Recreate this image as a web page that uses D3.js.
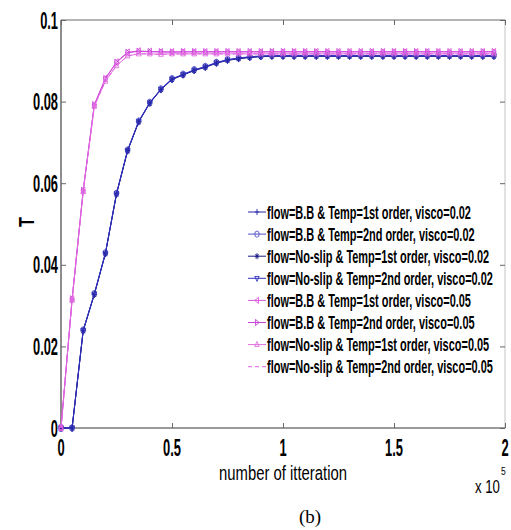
<!DOCTYPE html>
<html><head><meta charset="utf-8">
<script src="https://cdn.jsdelivr.net/npm/d3@7"></script>
<style>
body{margin:0;background:#fff;}
svg{display:block;}
.nar{font-family:"Liberation Sans",Arial,sans-serif;}
</style></head><body>
<svg id="c" width="511" height="530"></svg>
<script>
// iterations in units of 1e5
const iterations = [0,0.05,0.1,0.15,0.2,0.25,0.3,0.35,0.4,0.45,0.5,0.55,0.6,0.65,0.7,0.75,0.8,0.85,0.9,0.95,1,1.05,1.1,1.15,1.2,1.25,1.3,1.35,1.4,1.45,1.5,1.55,1.6,1.65,1.7,1.75,1.8,1.85,1.9,1.95];

const bbFirst02   = [0,0,0.0239,0.0328,0.0428,0.0574,0.0680,0.0751,0.0797,0.0830,0.0855,0.0866,0.0877,0.0885,0.0895,0.0902,0.0906,0.0909,0.0911,0.0912,0.0912,0.0912,0.0912,0.0912,0.0912,0.0912,0.0912,0.0912,0.0912,0.0912,0.0912,0.0912,0.0912,0.0912,0.0912,0.0912,0.0912,0.0912,0.0912,0.0912];
const bbSecond02  = [0,0,0.0240,0.0329,0.0429,0.0575,0.0681,0.0752,0.0798,0.0831,0.0856,0.0867,0.0878,0.0886,0.0896,0.0903,0.0907,0.0910,0.0912,0.0913,0.0913,0.0913,0.0913,0.0913,0.0913,0.0913,0.0913,0.0913,0.0913,0.0913,0.0913,0.0913,0.0913,0.0913,0.0913,0.0913,0.0913,0.0913,0.0913,0.0913];
const nsFirst02   = [0,0,0.0238,0.0327,0.0427,0.0573,0.0679,0.0750,0.0796,0.0829,0.0854,0.0865,0.0876,0.0884,0.0894,0.0901,0.0905,0.0908,0.0910,0.0911,0.0911,0.0911,0.0911,0.0911,0.0911,0.0911,0.0911,0.0911,0.0911,0.0911,0.0911,0.0911,0.0911,0.0911,0.0911,0.0911,0.0911,0.0911,0.0911,0.0911];
const nsSecond02  = [0,0,0.0239,0.0328,0.0428,0.0574,0.0680,0.0751,0.0797,0.0830,0.0855,0.0866,0.0877,0.0885,0.0895,0.0902,0.0906,0.0909,0.0911,0.0912,0.0912,0.0912,0.0912,0.0912,0.0912,0.0912,0.0912,0.0912,0.0912,0.0912,0.0912,0.0912,0.0912,0.0912,0.0912,0.0912,0.0912,0.0912,0.0912,0.0912];
const bbFirst05   = [0,0.0316,0.0582,0.0792,0.0857,0.0897,0.0921,0.0924,0.0923,0.0922,0.0922,0.0922,0.0922,0.0922,0.0922,0.0922,0.0922,0.0922,0.0922,0.0922,0.0922,0.0922,0.0922,0.0922,0.0922,0.0922,0.0922,0.0922,0.0922,0.0922,0.0922,0.0922,0.0922,0.0922,0.0922,0.0922,0.0922,0.0922,0.0922,0.0922];
const bbSecond05  = [0,0.0316,0.0582,0.0792,0.0856,0.0896,0.0920,0.0923,0.0922,0.0922,0.0921,0.0922,0.0922,0.0922,0.0922,0.0922,0.0922,0.0922,0.0922,0.0922,0.0922,0.0922,0.0922,0.0922,0.0922,0.0922,0.0922,0.0922,0.0922,0.0922,0.0922,0.0922,0.0922,0.0922,0.0922,0.0922,0.0922,0.0922,0.0922,0.0922];
const nsFirst05   = [0,0.0314,0.0580,0.0789,0.0850,0.0888,0.0912,0.0917,0.0917,0.0916,0.0917,0.0917,0.0917,0.0917,0.0917,0.0917,0.0917,0.0917,0.0917,0.0917,0.0917,0.0917,0.0917,0.0917,0.0917,0.0917,0.0917,0.0917,0.0917,0.0917,0.0917,0.0917,0.0917,0.0917,0.0917,0.0917,0.0917,0.0917,0.0917,0.0917];
const nsSecond05  = [0,0.0314,0.0580,0.0789,0.0850,0.0888,0.0912,0.0917,0.0917,0.0916,0.0917,0.0917,0.0917,0.0917,0.0917,0.0917,0.0917,0.0917,0.0917,0.0917,0.0917,0.0917,0.0917,0.0917,0.0917,0.0917,0.0917,0.0917,0.0917,0.0917,0.0917,0.0917,0.0917,0.0917,0.0917,0.0917,0.0917,0.0917,0.0917,0.0917];

const seriesNames = [
 "flow=B.B & Temp=1st order, visco=0.02",
 "flow=B.B & Temp=2nd order, visco=0.02",
 "flow=No-slip & Temp=1st order, visco=0.02",
 "flow=No-slip & Temp=2nd order, visco=0.02",
 "flow=B.B & Temp=1st order, visco=0.05",
 "flow=B.B & Temp=2nd order, visco=0.05",
 "flow=No-slip & Temp=1st order, visco=0.05",
 "flow=No-slip & Temp=2nd order, visco=0.05"
];
const seriesValues = [bbFirst02,bbSecond02,nsFirst02,nsSecond02,bbFirst05,bbSecond05,nsFirst05,nsSecond05];
const seriesMarkers = ["+","o","*","v","<",">","^","none"];
const seriesColors = ["#2626a8","#5050c8","#1a1a80","#3030c0","#dd55dd","#cc44dd","#e070e0","#e060e0"];
const seriesDash = [null,null,null,null,null,null,null,"4,3"];

const xTicks = [0,0.5,1,1.5,2];
const xTickLabels = ["0","0.5","1","1.5","2"];
const yTicks = [0,0.02,0.04,0.06,0.08,0.1];
const yTickLabels = ["0","0.02","0.04","0.06","0.08","0.1"];

const svg = d3.select("#c");
const L=61,R=505,T=20,B=428;
const x = d3.scaleLinear().domain([0,2]).range([L,R]);
const y = d3.scaleLinear().domain([0,0.1]).range([B,T]);

function natWidth(str,size,weight){
  const t = svg.append("text").attr("class","nar").attr("font-size",size).attr("font-weight",weight).text(str);
  const w = t.node().getComputedTextLength(); t.remove(); return w;
}
function stext(g, tx, ty, str, o){
  return g.append("text").attr("transform",`translate(${tx},${ty}) scale(${o.sx},${o.sy})`)
   .attr("class","nar").attr("font-size",o.size)
   .attr("font-weight",o.weight).attr("text-anchor",o.anchor||"start")
   .attr("fill","#000").text(str);
}

// frame
const frame = svg.append("g");
frame.append("rect").attr("x",L).attr("y",T).attr("width",R-L).attr("height",B-T)
  .attr("fill","none").attr("stroke","#c4c4c4").attr("stroke-width",1);
frame.append("line").attr("x1",L).attr("x2",L).attr("y1",T).attr("y2",B).attr("stroke","#555").attr("stroke-width",1.2);
frame.append("line").attr("x1",L).attr("x2",R).attr("y1",B).attr("y2",B).attr("stroke","#555").attr("stroke-width",1.2);
frame.append("line").attr("x1",L).attr("x2",R).attr("y1",T).attr("y2",T).attr("stroke","#888").attr("stroke-width",1);

// axes with d3 (inward ticks)
const xAxisB = d3.axisBottom(x).tickValues(xTicks).tickSize(-5).tickFormat("");
const xAxisT = d3.axisTop(x).tickValues(xTicks).tickSize(-5).tickFormat("");
const yAxisL = d3.axisLeft(y).tickValues(yTicks).tickSize(-5).tickFormat("");
const yAxisR = d3.axisRight(y).tickValues(yTicks).tickSize(-5).tickFormat("");
[[xAxisB,`0,${B}`],[xAxisT,`0,${T}`],[yAxisL,`${L},0`],[yAxisR,`${R},0`]].forEach(([ax,tr])=>{
  const g = svg.append("g").attr("transform",`translate(${tr})`).call(ax);
  g.select(".domain").remove();
  g.selectAll(".tick line").attr("stroke","#666");
});

// tick labels (condensed bold, vertically stretched)
const lbl = svg.append("g");
const sxTickY = 25/natWidth("0.08",16,"bold");
const sxTickX = 18/natWidth("0.5",16,"bold");
xTicks.forEach((v,i)=>stext(lbl, x(v), B+28, xTickLabels[i], {anchor:"middle",size:16,weight:"bold",sx:sxTickX,sy:1.45}));
yTicks.forEach((v,i)=>stext(lbl, L-3, y(v)+8.5, yTickLabels[i], {anchor:"end",size:16,weight:"bold",sx:sxTickY,sy:1.55}));

// axis titles
const sxXl = 128/natWidth("number of itteration",15,"normal");
stext(lbl, 283, 480, "number of itteration", {anchor:"middle",size:15,weight:"normal",sx:sxXl,sy:1.35});
const sx10 = 25/natWidth("x 10",14,"normal");
stext(lbl, 475, 493, "x 10", {anchor:"start",size:14,weight:"normal",sx:sx10,sy:1.35});
stext(lbl, 501, 475, "5", {anchor:"start",size:9,weight:"normal",sx:sx10,sy:1.3});
svg.append("text").attr("transform","translate(34,222) rotate(-90) scale(0.9,1.25)")
  .attr("class","nar").attr("font-size",18).attr("font-weight","bold").attr("text-anchor","middle").text("T");
svg.append("text").attr("x",310).attr("y",523).attr("font-family","'Liberation Serif','Times New Roman',serif")
  .attr("font-size",19).attr("text-anchor","middle").text("(b)");

// markers
function markerPath(m, s){
  const h=s, v=s*1.4;
  switch(m){
    case "+": return `M${-h},0L${h},0M0,${-v}L0,${v}`;
    case "*": return `M${-h},0L${h},0M0,${-v}L0,${v}M${-h*0.7},${-v*0.7}L${h*0.7},${v*0.7}M${-h*0.7},${v*0.7}L${h*0.7},${-v*0.7}`;
    case "o": return `M${-h},0A${h},${v} 0 1,0 ${h},0A${h},${v} 0 1,0 ${-h},0Z`;
    case "v": return `M${-h},${-v*0.6}L${h},${-v*0.6}L0,${v}Z`;
    case "^": return `M${-h},${v*0.6}L${h},${v*0.6}L0,${-v}Z`;
    case "<": return `M${h*0.7},${-v}L${h*0.7},${v}L${-h},0Z`;
    case ">": return `M${-h*0.7},${-v}L${-h*0.7},${v}L${h},0Z`;
  }
  return "";
}

const line = d3.line().x((d,i)=>x(iterations[i])).y(d=>y(d));
const plot = svg.append("g");
seriesValues.forEach((vals,k)=>{
  const p = plot.append("path").datum(vals).attr("d",line).attr("fill","none")
    .attr("stroke",seriesColors[k]).attr("stroke-width",1);
  if(seriesDash[k]) p.attr("stroke-dasharray",seriesDash[k]);
  if(seriesMarkers[k]!=="none"){
    plot.selectAll(null).data(vals).enter().append("path")
      .attr("transform",(d,i)=>`translate(${x(iterations[i])},${y(d)})`)
      .attr("d",markerPath(seriesMarkers[k],2.4)).attr("fill","none")
      .attr("stroke",seriesColors[k]).attr("stroke-width",0.9);
  }
});

// legend
const leg = svg.append("g");
const legY0 = 212, legDy = 22.1;
const sxLeg = 226/natWidth(seriesNames[3],13,"bold");
seriesNames.forEach((nm,k)=>{
  const yy = legY0 + k*legDy;
  const l = leg.append("line").attr("x1",248).attr("x2",266).attr("y1",yy).attr("y2",yy)
    .attr("stroke",seriesColors[k]).attr("stroke-width",1);
  if(seriesDash[k]) l.attr("stroke-dasharray","4,3");
  if(seriesMarkers[k]!=="none"){
    leg.append("path").attr("transform",`translate(257,${yy})`).attr("d",markerPath(seriesMarkers[k],2.2))
      .attr("fill","none").attr("stroke",seriesColors[k]).attr("stroke-width",0.9);
  }
  stext(leg, 267, yy+6.5, nm, {size:13,weight:"bold",sx:sxLeg,sy:1.45});
});
</script></body></html>
